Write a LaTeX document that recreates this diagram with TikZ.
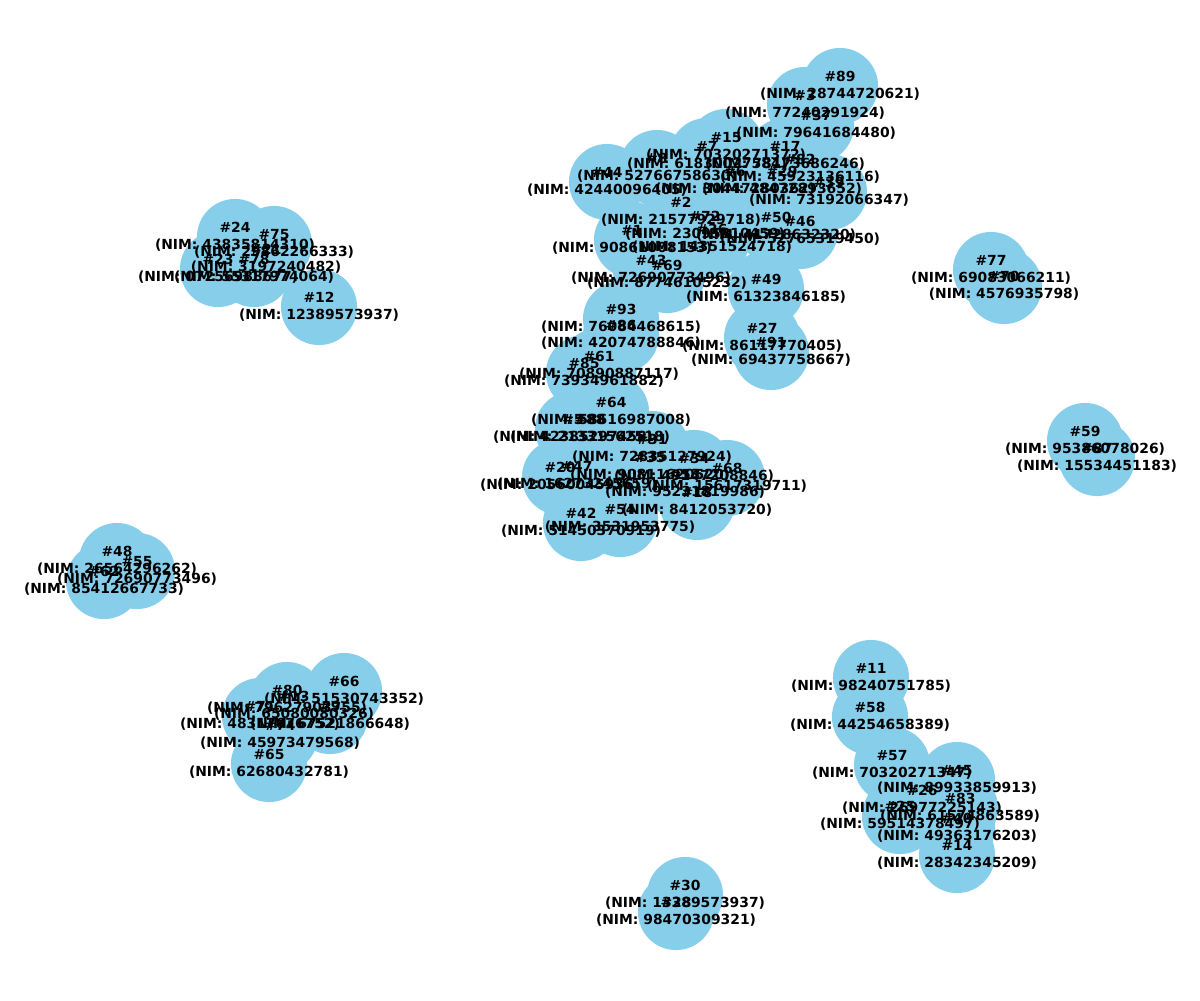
\documentclass[tikz,border=0pt]{standalone}
\usepackage{fontspec}
\setmainfont{DejaVu Sans}
\tikzset{nd/.append style={circle,fill=skyblue,minimum size=54.8pt,inner sep=0pt}}
\tikzset{lb/.append style={align=center,inner sep=0pt,font=\fontsize{10}{12}\selectfont\bfseries}}
\definecolor{skyblue}{HTML}{87CEEB}
% id/x/y/nim
\newcommand{\nimlist}{89/840/86/28744720621, 3/805/105/77240291924, 37/816/125/79641684480,
 15/726/147/70320271372, 7/707/156/61830027584, 17/785/156/78173686246,
 8/657/168/52766758630, 44/607/182/42440096405, 82/800/169/45923136116,
 29/782/181/48472893652, 6/735/181/30447280362, 39/829/192/73192066347,
 2/681/212/21577929718, 72/705/226/23095810459, 1/632/240/90861008153,
 36/712/239/14351524718, 50/776/227/41728632320, 46/800/231/52765319450,
 43/651/270/72690773496, 69/667/275/87746105232, 49/766/289/61323846185,
 27/762/338/86117770405, 91/771/352/69437758667, 93/621/319/76084468615,
 86/621/335/42074788846, 61/599/366/70890887117, 85/584/373/73934961882,
 64/611/412/58616987008, 5/573/429/42385297458, 88/590/429/21331562518,
 31/652/449/72835127924, 35/650/467/90811620520, 34/694/468/49147208846,
 68/727/478/15617319711, 53/685/484/95231819986, 18/697/502/8412053720,
 54/620/519/3531953775, 42/581/523/51450370919, 20/560/477/20560045936,
 47/577/476/16273245659,
 24/235/237/43835814310, 75/274/244/29862266333, 21/266/259/3197240482,
 23/218/269/07256988677, 78/254/269/55317974064, 12/319/307/12389573937,
 48/117/561/26564296262, 55/137/571/72690773496, 62/104/581/85412667733,
 66/344/691/51530743352, 80/287/700/79627903755, 13/294/706/65080080326,
 71/260/716/48317676752, 9/330/716/67521866648, 74/280/735/45973479568,
 65/269/764/62680432781,
 77/991/270/69083066211, 70/1004/286/4576935798,
 59/1085/441/95386078026, 87/1097/458/15534451183,
 11/871/678/98240751785, 58/870/717/44254658389, 57/892/765/70320271347,
 45/957/780/89933859913, 26/922/800/26977225143, 25/900/816/59514378497,
 83/960/808/61574863589, 40/957/828/49363176203, 14/957/855/28342345209,
 30/685/895/13389573937, 28/676/912/98470309321}
\begin{document}
\begin{tikzpicture}[x=0.72pt,y=-0.72pt]
  \useasboundingbox (0,0) rectangle (1200,1000);
  % circles first, labels on top
  \foreach \i/\x/\y/\n in \nimlist
    \node[nd] (n\i) at (\x,\y) {};
  \foreach \i/\x/\y/\n in \nimlist
    \node[lb] (t\i) at (n\i) {\#\i\\(NIM: \n)};
\end{tikzpicture}
\end{document}
